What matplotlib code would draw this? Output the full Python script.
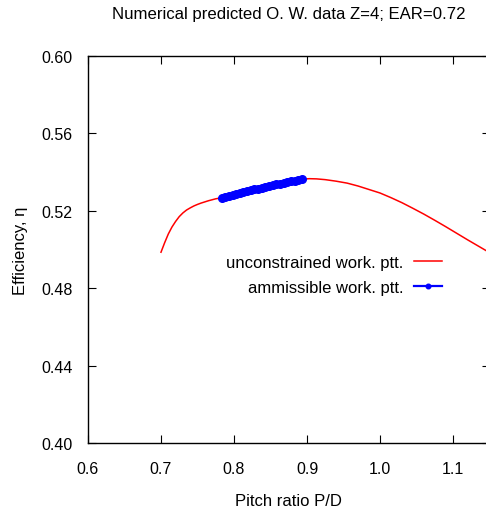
import matplotlib
matplotlib.use("Agg")
import matplotlib.pyplot as plt

# unconstrained working points (red curve)
pd_all = [0.700, 0.705, 0.710, 0.715, 0.720, 0.725, 0.730, 0.735, 0.740, 0.745,
          0.750, 0.755, 0.760, 0.765, 0.770, 0.775, 0.781, 0.800, 0.820, 0.840,
          0.860, 0.880, 0.893, 0.903, 0.913, 0.925, 0.940, 0.955, 0.970, 0.985,
          1.000, 1.015, 1.030, 1.045, 1.060, 1.075, 1.090, 1.105, 1.120, 1.135,
          1.150]
eta_all = [0.4986, 0.5035, 0.5080, 0.5116, 0.5145, 0.5170, 0.5189, 0.5204, 0.5215, 0.5225,
           0.5233, 0.5240, 0.5246, 0.5252, 0.5257, 0.5262, 0.5266, 0.5284, 0.5304, 0.5322,
           0.5339, 0.5354, 0.5363, 0.5366, 0.5365, 0.5361, 0.5353, 0.5343, 0.5328, 0.5310,
           0.5292, 0.5268, 0.5242, 0.5213, 0.5183, 0.5151, 0.5118, 0.5084, 0.5050, 0.5017,
           0.4984]

# admissible working points (blue)
pd_ok = [0.783, 0.788, 0.793, 0.798, 0.803, 0.808, 0.813, 0.818, 0.823, 0.828,
         0.833, 0.838, 0.843, 0.848, 0.853, 0.858, 0.863, 0.868, 0.873, 0.878,
         0.883, 0.888, 0.893]
eta_ok = [0.5267, 0.5272, 0.5277, 0.5282, 0.5287, 0.5292, 0.5297, 0.5301, 0.5306, 0.5311,
          0.5315, 0.5320, 0.5324, 0.5329, 0.5333, 0.5337, 0.5341, 0.5345, 0.5349, 0.5352,
          0.5356, 0.5359, 0.5362]

xticks = [0.6, 0.7, 0.8, 0.9, 1.0, 1.1]
yticks = [0.40, 0.44, 0.48, 0.52, 0.56, 0.60]

plt.rcParams["font.family"] = ["Liberation Sans", "DejaVu Sans"]
plt.rcParams["font.size"] = 12

fig = plt.figure(figsize=(4.86, 5.10), dpi=100)
ax = fig.add_axes([88 / 486, 66 / 510, 401.5 / 486, 387 / 510])

ax.plot(pd_all, eta_all, color="red", lw=1.1, label="unconstrained work. ptt.")
ax.plot(pd_ok, eta_ok, color="blue", lw=1.6, marker="o", ms=5.5,
        label="ammissible work. ptt.", zorder=3)

ax.set_xlim(0.6, 1.15)
ax.set_ylim(0.40, 0.60)
ax.set_xticks(xticks)
ax.set_xticklabels([f"{v:.1f}" for v in xticks])
ax.set_yticks(yticks)
ax.set_yticklabels([f"{v:.2f}" for v in yticks])
ax.tick_params(direction="in", length=6, width=0.8, top=True, right=True,
               labelsize=11.5)
ax.tick_params(axis="y", pad=11)
ax.tick_params(axis="x", pad=13)
for s in ax.spines.values():
    s.set_linewidth(1.0)

ax.set_xlabel("Pitch ratio P/D", labelpad=12, fontsize=12)
ax.set_ylabel("Efficiency, η", fontsize=12)
ax.yaxis.set_label_coords(-0.15, 0.5)
ax.set_title("Numerical predicted O. W. data Z=4; EAR=0.72", pad=27, fontsize=12.1)

ax.legend(loc="upper right", bbox_to_anchor=(442 / 486, 1 - 256 / 510),
          bbox_transform=fig.transFigure, frameon=False, markerfirst=False,
          borderaxespad=0, borderpad=0, handlelength=1.7, handletextpad=0.6,
          labelspacing=0.58, markerscale=0.6, fontsize=12)

fig.savefig("out.png", dpi=100)
